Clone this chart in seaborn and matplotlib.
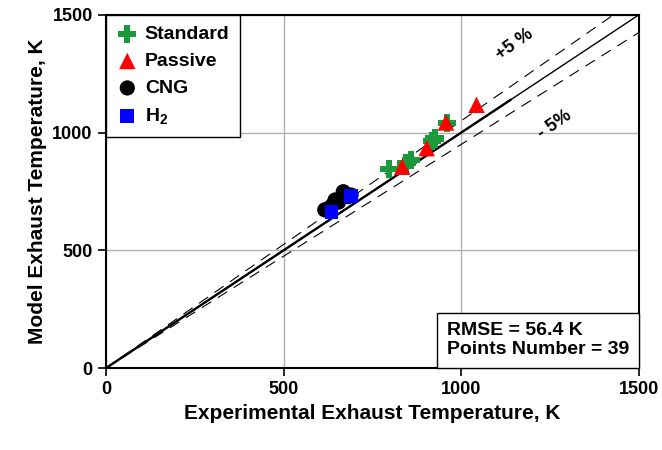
import pandas as pd
import seaborn as sns
import matplotlib.pyplot as plt
from matplotlib.offsetbox import AnchoredText

# Data (K)
standard_exp = [797, 846, 858, 918, 925, 960]
standard_mod = [844, 870, 884, 965, 975, 1042]
passive_exp = [834, 903, 957, 1043]
passive_mod = [855, 934, 1043, 1118]
cng_exp = [616, 625, 636, 645, 655, 668, 672, 682, 690]
cng_mod = [672, 676, 690, 714, 705, 749, 740, 728, 735]
h2_exp = [635, 691]
h2_mod = [664, 732]

rmse_text = "RMSE = 56.4 K\nPoints Number = 39"

sns.set_style('white')
plt.rcParams['font.family'] = ['Liberation Sans', 'DejaVu Sans']
plt.rcParams['font.weight'] = 'bold'
plt.rcParams['text.color'] = 'black'
plt.rcParams['axes.labelcolor'] = 'black'
plt.rcParams['xtick.color'] = 'black'
plt.rcParams['ytick.color'] = 'black'
plt.rcParams['mathtext.fontset'] = 'custom'
plt.rcParams['mathtext.rm'] = 'Liberation Sans:bold'
plt.rcParams['mathtext.it'] = 'Liberation Sans:bold'
plt.rcParams['mathtext.bf'] = 'Liberation Sans:bold'

frames = []
for name, xs, ys in [('Standard', standard_exp, standard_mod),
                     ('Passive', passive_exp, passive_mod),
                     ('CNG', cng_exp, cng_mod),
                     ('H$_2$', h2_exp, h2_mod)]:
    frames.append(pd.DataFrame({'exp': xs, 'mod': ys, 'fuel': name}))
df = pd.concat(frames, ignore_index=True)

fig = plt.figure(figsize=(6.62, 4.5), dpi=100)
ax = fig.add_axes([0.160, 0.182, 0.805, 0.785])

# reference lines
ax.plot([0, 1500], [0, 1500], color='black', lw=1.0, zorder=2)
ax.plot([0, 1140], [0, 1140], color='black', lw=1.7, zorder=2)
ax.plot([0, 1500], [0, 1500 * 1.05], color='black', lw=0.8, ls=(0, (10, 7)), zorder=2)
ax.plot([0, 1500], [0, 1500 * 0.95], color='black', lw=0.8, ls=(0, (10, 7)), zorder=2)

palette = {'Standard': '#1a9a3a', 'Passive': '#ff0000', 'CNG': '#000000', 'H$_2$': '#0000ff'}
markers = {'Standard': 'P', 'Passive': '^', 'CNG': 'o', 'H$_2$': 's'}
sizes = {'Standard': 170, 'Passive': 140, 'CNG': 120, 'H$_2$': 100}
for name in ['CNG', 'H$_2$', 'Standard', 'Passive']:
    sub = df[df['fuel'] == name]
    sns.scatterplot(data=sub, x='exp', y='mod', color=palette[name], marker=markers[name],
                    s=sizes[name], edgecolor='none', linewidth=0, ax=ax, zorder=3, label=name)

ax.set_xlim(0, 1500)
ax.set_ylim(0, 1500)
ax.set_xticks([0, 500, 1000, 1500])
ax.set_yticks([0, 500, 1000, 1500])
ax.grid(True, color='#b0b0b0', lw=1.0)
ax.set_axisbelow(True)
for sp in ax.spines.values():
    sp.set_color('black')
    sp.set_linewidth(1.5)
ax.tick_params(axis='both', direction='out', length=6, width=1.2, labelsize=13,
               bottom=True, left=True, top=False, right=False, colors='black')
for lab in ax.get_xticklabels() + ax.get_yticklabels():
    lab.set_fontweight('bold')
ax.set_xlabel('Experimental Exhaust Temperature, K', fontsize=15, fontweight='bold')
ax.set_ylabel('Model Exhaust Temperature, K', fontsize=15, fontweight='bold')

handles, labels = ax.get_legend_handles_labels()
order = ['Standard', 'Passive', 'CNG', 'H$_2$']
hl = dict(zip(labels, handles))
leg = ax.legend([hl[k] for k in order], order, loc='upper left', borderaxespad=0,
                fancybox=False, edgecolor='black', framealpha=1,
                prop={'size': 14, 'weight': 'bold'}, handletextpad=0.35,
                handlelength=1.1, labelspacing=0.48, borderpad=0.55)
leg.get_frame().set_linewidth(1.0)
for t in leg.get_texts():
    t.set_color('black')

ax.text(1151, 1373, '+5 %', rotation=35, fontsize=13, fontweight='bold',
        ha='center', va='center')
ax.text(1264, 1033, '- 5%', rotation=35, fontsize=13, fontweight='bold',
        ha='center', va='center')

at = AnchoredText(rmse_text, loc='lower right', borderpad=0, frameon=True, pad=0.5,
                  prop={'size': 14, 'weight': 'bold', 'linespacing': 1.15, 'color': 'black'})
at.patch.set_edgecolor('black')
at.patch.set_linewidth(1.0)
ax.add_artist(at)

fig.savefig('out.png', dpi=100)
